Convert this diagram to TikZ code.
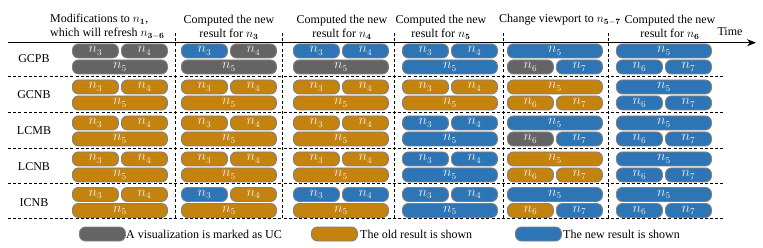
\documentclass[tikz,border=0pt]{standalone}
\usepackage[no-math]{fontspec}
\setmainfont{Liberation Serif}
\usetikzlibrary{arrows.meta}
\definecolor{cg}{HTML}{646464}
\definecolor{co}{HTML}{C4830F}
\definecolor{cb}{HTML}{2E75B6}
\definecolor{cbd}{HTML}{808080}
\definecolor{ctx}{HTML}{F0F0F0}
\tikzset{
  pill/.style={draw=cbd, line width=0.9pt, rounded corners=6pt, minimum height=14pt,
    inner sep=0pt, text=ctx, font=\fontsize{13.5}{15}\selectfont},
  sep/.style={draw=black, line width=0.8pt, dash pattern=on 3pt off 2.2pt},
  lbl/.style={font=\fontsize{12}{14}\selectfont, inner sep=0pt},
}
\newcommand{\cellA}[6]{%
  \node[pill,fill=#4,minimum width=46pt,anchor=north west] (#1a) at (#2,#3) {$n_3$};
  \node[pill,fill=#5,minimum width=46pt,anchor=north west] (#1b) at ({#2+49},#3) {$n_4$};
  \node[pill,fill=#6,minimum width=95pt,anchor=north west] (#1c) at (#2,{#3+16}) {$n_5$};
}
\newcommand{\cellB}[6]{%
  \node[pill,fill=#4,minimum width=95pt,anchor=north west] (#1a) at (#2,#3) {$n_5$};
  \node[pill,fill=#5,minimum width=46pt,anchor=north west] (#1b) at (#2,{#3+16}) {$n_6$};
  \node[pill,fill=#6,minimum width=46pt,anchor=north west] (#1c) at ({#2+49},{#3+16}) {$n_7$};
}
\begin{document}
\begin{tikzpicture}[x=1pt,y=-1pt]
\useasboundingbox (0,0) rectangle (763,247);
% headers
\node[lbl,align=left,anchor=west] (h1) at (50,27) {Modifications to $n_{\mathbf{1}}$,\\which will refresh $n_{\mathbf{3-6}}$};
\node[lbl,align=center] (h2) at (229,27) {Computed the new\\result for $n_{\mathbf{3}}$};
\node[lbl,align=center] (h3) at (342,27) {Computed the new\\result for $n_{\mathbf{4}}$};
\node[lbl,align=center] (h4) at (441,27) {Computed the new\\result for $n_{\mathbf{5}}$};
\node[lbl] (h5) at (560,20) {Change viewport to $n_{\mathbf{5-7}}$};
\node[lbl,align=center] (h6) at (670,27) {Computed the new\\result for $n_{\mathbf{6}}$};
\node[lbl] (time) at (730,32) {Time};
% separators
\foreach \x [count=\i] in {175,282,394,503,608}{
  \coordinate (vt\i) at (\x,33); \coordinate (vb\i) at (\x,218.5);
  \draw[sep] (vt\i) -- (vb\i);
}
\foreach \y [count=\i] in {76,112,148,183.5,218.5}{
  \coordinate (hl\i) at (8,\y); \coordinate (hr\i) at (723,\y);
  \draw[sep] (hl\i) -- (hr\i);
}
% axis
\coordinate (axL) at (8,42.7);
\coordinate (axR) at (756,42.7);
\draw[line width=1.1pt,-{Stealth[length=9pt,width=7pt]}] (axL) -- (axR);
% row labels
\node[lbl] (rl1) at (34,59) {GCPB};
\node[lbl] (rl2) at (34,95) {GCNB};
\node[lbl] (rl3) at (34,131) {LCMB};
\node[lbl] (rl4) at (34,167) {LCNB};
\node[lbl] (rl5) at (34,203) {ICNB};
% GCPB
\cellA{ra1}{72}{43.5}{cg}{cg}{cg}
\cellA{ra2}{181}{43.5}{cb}{cg}{cg}
\cellA{ra3}{293}{43.5}{cb}{cb}{cg}
\cellA{ra4}{402}{43.5}{cb}{cb}{cb}
\cellB{ra5}{507}{43.5}{cb}{cg}{cb}
\cellB{ra6}{616}{43.5}{cb}{cb}{cb}
% GCNB
\cellA{rb1}{72}{79.5}{co}{co}{co}
\cellA{rb2}{181}{79.5}{co}{co}{co}
\cellA{rb3}{293}{79.5}{co}{co}{co}
\cellA{rb4}{402}{79.5}{co}{co}{co}
\cellB{rb5}{507}{79.5}{co}{co}{co}
\cellB{rb6}{616}{79.5}{cb}{cb}{cb}
% LCMB
\cellA{rc1}{72}{115.5}{co}{co}{co}
\cellA{rc2}{181}{115.5}{co}{co}{co}
\cellA{rc3}{293}{115.5}{co}{co}{co}
\cellA{rc4}{402}{115.5}{cb}{cb}{cb}
\cellB{rc5}{507}{115.5}{cb}{cg}{cb}
\cellB{rc6}{616}{115.5}{cb}{cb}{cb}
% LCNB
\cellA{rd1}{72}{151.5}{co}{co}{co}
\cellA{rd2}{181}{151.5}{co}{co}{co}
\cellA{rd3}{293}{151.5}{co}{co}{co}
\cellA{rd4}{402}{151.5}{cb}{cb}{cb}
\cellB{rd5}{507}{151.5}{co}{co}{co}
\cellB{rd6}{616}{151.5}{cb}{cb}{cb}
% ICNB
\cellA{re1}{72}{187}{co}{co}{co}
\cellA{re2}{181}{187}{cb}{co}{co}
\cellA{re3}{293}{187}{cb}{cb}{co}
\cellA{re4}{402}{187}{cb}{cb}{cb}
\cellB{re5}{507}{187}{cb}{co}{cb}
\cellB{re6}{616}{187}{cb}{cb}{cb}
% legend
\node[pill,fill=cg,minimum width=46pt,anchor=west] (lg1) at (79,234) {};
\node[lbl,anchor=west] (lt1) at (126,234) {A visualization is marked as UC};
\node[pill,fill=co,minimum width=46pt,anchor=west] (lg2) at (311,234) {};
\node[lbl,anchor=west] (lt2) at (360,234) {The old result is shown};
\node[pill,fill=cb,minimum width=46pt,anchor=west] (lg3) at (515,234) {};
\node[lbl,anchor=west] (lt3) at (563,234) {The new result is shown};
\end{tikzpicture}
\end{document}
